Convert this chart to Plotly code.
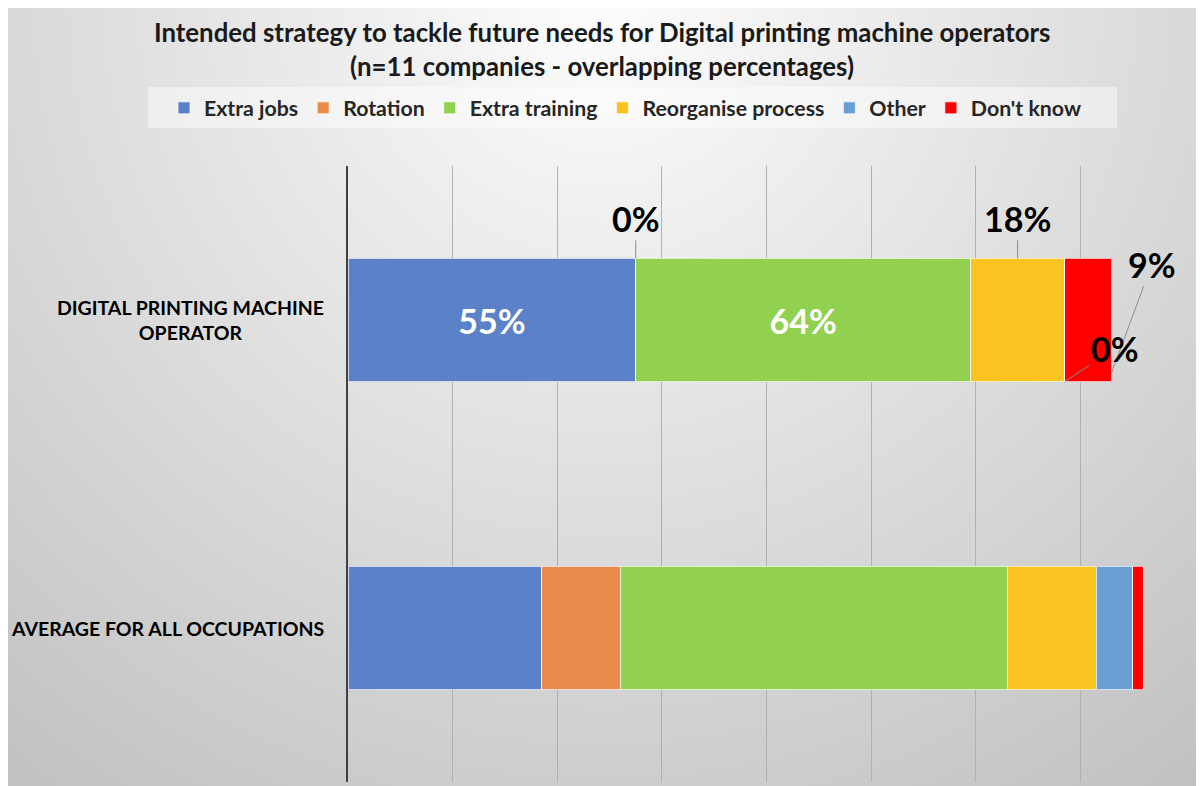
import base64
import plotly.graph_objects as go

categories = ["DIGITAL PRINTING MACHINE<br>OPERATOR", "AVERAGE FOR ALL OCCUPATIONS"]
series_names = ["Extra jobs", "Rotation", "Extra training", "Reorganise process", "Other", "Don't know"]
extra_jobs = [55, 37]
rotation = [0, 15]
extra_training = [64, 74]
reorganise = [18, 17]
other = [0, 7]
dont_know = [9, 2]

series_values = [extra_jobs, rotation, extra_training, reorganise, other, dont_know]
colors = ["#5B81C8", "#E98B4B", "#92D050", "#FAC322", "#6A9FD3", "#FF0000"]
FONT = "Lato"

# labels shown inside the top bar, the rest get leader-line callouts
inside_labels = {"Extra jobs", "Extra training"}

fig = go.Figure()
for name, vals, col in zip(series_names, series_values, colors):
    txt = [f"{vals[0]}%" if name in inside_labels else "", ""]
    fig.add_trace(go.Bar(
        y=categories, x=vals, name=name, orientation="h", width=0.4,
        marker=dict(color=col, line=dict(color="rgba(255,255,255,0.7)", width=1)),
        text=txt, textposition="inside", insidetextanchor="middle",
        textfont=dict(family=FONT, size=34, color="white", weight="bold"),
        hoverinfo="skip",
    ))

# cumulative starts of each segment in the top bar
starts = []
acc = 0
for vals in series_values:
    starts.append(acc)
    acc += vals[0]

callouts = [
    # (series index, x of the tip, y of the tip, ax, ay)
    (1, starts[1], -0.2, 0, -40),
    (3, starts[3] + reorganise[0] / 2, -0.2, 0, -40),
    (5, starts[5] + dont_know[0], 0.17, 40, -108),
    (4, starts[4], 0.2, 50, -33),
]
annotations = []
for idx, xt, yt, ax, ay in callouts:
    annotations.append(dict(
        x=xt, y=yt, xref="x", yref="y", text=f"{series_values[idx][0]}%",
        showarrow=True, arrowhead=0, arrowwidth=1, arrowcolor="#8c8c8c",
        ax=ax, ay=ay, font=dict(family=FONT, size=34, color="#000000", weight="bold"),
    ))

# page is offset by the 8px body margin, so the figure is 8px smaller
W, H = 1196, 778
L, R, T, B = 340, 19, 158, 4
pw, ph = W - L - R, H - T - B

# category labels, centered lines, right-aligned block
for i, cat in enumerate(categories):
    annotations.append(dict(
        x=(318 - L) / pw, y=i, xref="paper", yref="y", text=cat, showarrow=False,
        xanchor="right", align="center",
        font=dict(family=FONT, size=19.5, color="#000000", weight="bold"),
    ))

# two-line title
title_lines = ["Intended strategy to tackle future needs for Digital printing machine operators",
               "(n=11 companies - overlapping percentages)"]
for line, ty in zip(title_lines, [24, 58]):
    annotations.append(dict(
        x=(594 - L) / pw, y=(H - B - ty) / ph, xref="paper", yref="paper", showarrow=False,
        text=line, xanchor="center", yanchor="middle",
        font=dict(family=FONT, size=25.8, color="#1a1a1a", weight="bold")))

svg = (
    "<svg xmlns='http://www.w3.org/2000/svg' width='1196' height='778'>"
    "<defs><radialGradient id='g' gradientUnits='userSpaceOnUse' cx='594' cy='-8' r='1000'>"
    "<stop offset='0' stop-color='#fdfdfd'/><stop offset='1' stop-color='#c0c0c0'/>"
    "</radialGradient></defs>"
    "<rect width='1196' height='778' fill='url(#g)'/>"
    "<rect x='140' y='79' width='969' height='41' fill='#ffffff' fill-opacity='0.45'/>"
    "</svg>"
)
bg = "data:image/svg+xml;base64," + base64.b64encode(svg.encode()).decode()

fig.update_layout(
    width=W, height=H, barmode="stack",
    margin=dict(l=L, r=R, t=T, b=B),
    paper_bgcolor="#e4e4e4", plot_bgcolor="rgba(0,0,0,0)",
    images=[dict(source=bg, xref="paper", yref="paper", x=-L / pw, y=(H - B) / ph,
                 sizex=W / pw, sizey=H / ph, sizing="stretch", layer="below",
                 xanchor="left", yanchor="top")],
    # left-anchored left of the plot area so the legend may use the full width
    legend=dict(orientation="h", x=(156 - L) / pw, xanchor="left",
                y=(H - B - 100) / ph, yanchor="middle",
                bgcolor="rgba(0,0,0,0)",
                font=dict(family=FONT, size=21.3, color="#262626", weight="bold"),
                traceorder="normal"),
    annotations=annotations,
    showlegend=True,
)
fig.update_xaxes(range=[0, 160], dtick=20, showgrid=True, gridcolor="#b0b0b0", gridwidth=1,
                 showticklabels=False, zeroline=False, fixedrange=True)
fig.update_yaxes(autorange="reversed", showline=True, linecolor="#404040", linewidth=2,
                 showgrid=False, showticklabels=False, ticks="", fixedrange=True)

fig.write_html("out.html")
